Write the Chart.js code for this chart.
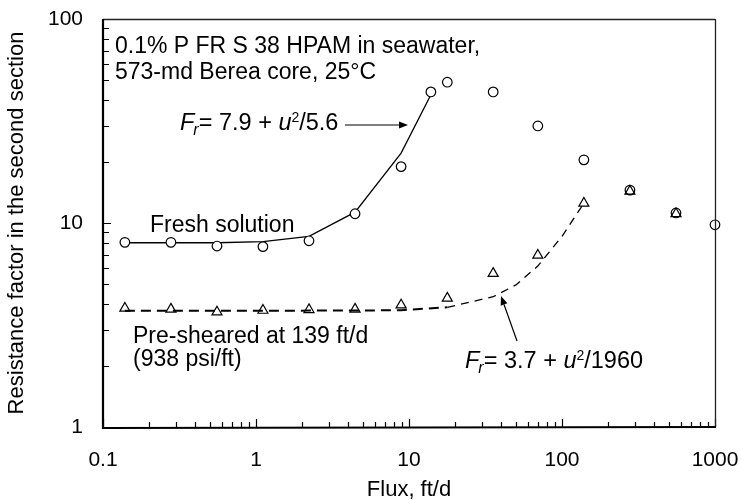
<!DOCTYPE html>
<html><head><meta charset="utf-8">
<script src="https://cdn.jsdelivr.net/npm/chart.js@4/dist/chart.umd.min.js"></script>
<style>html,body{margin:0;padding:0;background:#fff;}</style>
</head><body>
<canvas id="c" width="741" height="499"></canvas>
<script>
// ---- data ----
const freshFlux = [0.139, 0.278, 0.556, 1.11, 2.22, 4.44, 8.88, 13.9, 17.8, 35.5, 69.5, 139, 278, 556, 1000];
const freshFr   = [8.04, 8.04, 7.71, 7.66, 8.18, 11.1, 18.9, 43.9, 49, 43.9, 29.9, 20.4, 14.5, 11.2, 9.8];
const shearedFlux = [0.139, 0.278, 0.556, 1.11, 2.22, 4.44, 8.88, 17.8, 35.5, 69.5, 139, 278, 556];
const shearedFr   = [3.82, 3.78, 3.66, 3.73, 3.76, 3.78, 3.96, 4.28, 5.66, 6.95, 12.5, 14.3, 11.1];
const fitFreshFlux = [0.139, 0.278, 0.556, 1.11, 2.22, 4.44, 8.88, 13.9];
const fitFreshFr   = [8.0, 8.0, 8.0, 8.1, 8.6, 11.3, 22, 42.5];
const fitShearFluxA = [0.139, 0.278, 0.556, 1.11, 2.22, 4.44, 8.88, 17.8];
const fitShearFrA   = [3.71, 3.71, 3.71, 3.71, 3.72, 3.72, 3.74, 3.86];
const fitShearFluxB = [17.8, 35.5, 50, 69.5, 100, 139];
const fitShearFrB   = [3.86, 4.35, 4.97, 6.15, 8.6, 12.5];
const xTickLabels = ['0.1', '1', '10', '100', '1000'];
const yTickLabels = ['1', '10', '100'];

const FAMILY = '"Liberation Sans", Arial, Helvetica, sans-serif';
const pts = (xs, ys) => xs.map((x, i) => ({x: x, y: ys[i]}));
function logTicks(labels) {
  const out = [];
  const vals = labels.map(Number);
  for (let d = 0; d < vals.length - 1; d++) {
    for (let m = 1; m <= 9; m++) out.push(parseFloat((m * vals[d]).toPrecision(6)));
  }
  out.push(vals[vals.length - 1]);
  return out;
}
const isMajor = v => Math.abs(Math.log10(v) - Math.round(Math.log10(v))) < 1e-9;
function labelFor(labels) {
  return function(v) {
    const f = labels.find(l => Math.abs(Number(l) - v) < 1e-9 * Math.max(1, v));
    return f === undefined ? '' : f;
  };
}

const overlay = {
  id: 'overlay',
  afterDraw(chart) {
    const ctx = chart.ctx;
    const {left, right, top, bottom} = chart.chartArea;
    const xs = chart.scales.x, ys = chart.scales.y;
    ctx.save();
    ctx.strokeStyle = '#000';
    ctx.lineWidth = 1.2;
    ctx.beginPath();
    xs.ticks.forEach(t => {
      const px = Math.round(xs.getPixelForValue(t.value)) + 0.5;
      const len = isMajor(t.value) ? 8 : 5;
      ctx.moveTo(px, bottom); ctx.lineTo(px, bottom - len);
    });
    ys.ticks.forEach(t => {
      const py = Math.round(ys.getPixelForValue(t.value)) + 0.5;
      const len = isMajor(t.value) ? 8 : 6;
      ctx.moveTo(left, py); ctx.lineTo(left + len, py);
    });
    ctx.stroke();
    // frame
    ctx.lineWidth = 1.3;
    ctx.strokeStyle = '#222';
    ctx.beginPath();
    ctx.moveTo(left, top + 0.5); ctx.lineTo(right, top + 0.5);
    ctx.moveTo(right + 0.5, top); ctx.lineTo(right + 0.5, bottom);
    ctx.stroke();
    ctx.lineWidth = 2.2;
    ctx.strokeStyle = '#000';
    ctx.beginPath();
    ctx.moveTo(left, top); ctx.lineTo(left, bottom + 1); ctx.lineTo(right + 1, bottom);
    ctx.stroke();

    // annotations
    ctx.fillStyle = '#000';
    ctx.textBaseline = 'alphabetic';
    ctx.textAlign = 'left';
    ctx.font = '23px ' + FAMILY;
    ctx.fillText('0.1% P FR S 38 HPAM in seawater,', 115, 53);
    ctx.fillText('573-md Berea core, 25°C', 115, 79);
    ctx.fillText('Fresh solution', 150, 232);
    ctx.fillText('Pre-sheared at 139 ft/d', 133, 343);
    ctx.fillText('(938 psi/ft)', 133, 366);

    function rich(x, y, parts) {
      parts.forEach(p => {
        ctx.font = (p.it ? 'italic ' : '') + p.s + 'px ' + FAMILY;
        ctx.fillText(p.t, x, y + (p.dy || 0));
        x += ctx.measureText(p.t).width + (p.k || 0);
      });
      return x;
    }
    rich(180, 130, [
      {t: 'F', it: true, s: 23.5, k: -1}, {t: 'r', it: true, s: 16, dy: 5},
      {t: '= 7.9 + ', s: 23.5}, {t: 'u', it: true, s: 23.5}, {t: '2', s: 14, dy: -8},
      {t: '/5.6', s: 23.5}
    ]);
    rich(465, 368, [
      {t: 'F', it: true, s: 23.5, k: -1}, {t: 'r', it: true, s: 16, dy: 5},
      {t: '= 3.7 + ', s: 23.5}, {t: 'u', it: true, s: 23.5}, {t: '2', s: 14, dy: -8},
      {t: '/1960', s: 23.5}
    ]);

    function arrow(x1, y1, x2, y2) {
      const a = Math.atan2(y2 - y1, x2 - x1);
      const L = 9, W = 3.5;
      ctx.lineWidth = 1.2;
      ctx.beginPath();
      ctx.moveTo(x1, y1);
      ctx.lineTo(x2 - L * Math.cos(a), y2 - L * Math.sin(a));
      ctx.stroke();
      ctx.beginPath();
      ctx.moveTo(x2, y2);
      ctx.lineTo(x2 - L * Math.cos(a) + W * Math.sin(a), y2 - L * Math.sin(a) - W * Math.cos(a));
      ctx.lineTo(x2 - L * Math.cos(a) - W * Math.sin(a), y2 - L * Math.sin(a) + W * Math.cos(a));
      ctx.closePath();
      ctx.fill();
    }
    arrow(345, 125, 408, 125);
    arrow(517, 341, 501, 296);
    ctx.restore();
  }
};

new Chart(document.getElementById('c'), {
  type: 'scatter',
  data: {
    datasets: [
      {data: pts(freshFlux, freshFr), pointStyle: 'circle', pointRadius: 4.8, pointBorderWidth: 1.2,
       borderColor: '#000', backgroundColor: '#fff', showLine: false, clip: false, order: 1},
      {data: pts(shearedFlux, shearedFr), pointStyle: 'triangle', pointRadius: 5.8, pointBorderWidth: 1.2,
       borderColor: '#000', backgroundColor: 'rgba(255,255,255,0)', showLine: false, clip: false, order: 0},
      {data: pts(fitFreshFlux, fitFreshFr), showLine: true, pointRadius: 0, borderColor: '#000',
       borderWidth: 1.3, tension: 0, order: 2},
      {data: pts(fitShearFluxA, fitShearFrA), showLine: true, pointRadius: 0, borderColor: '#000',
       borderWidth: 2, borderDash: [10, 6], tension: 0, order: 3},
      {data: pts(fitShearFluxB, fitShearFrB), showLine: true, pointRadius: 0, borderColor: '#000',
       borderWidth: 1.3, borderDash: [8, 6], tension: 0, order: 3}
    ]
  },
  options: {
    responsive: false, animation: false, devicePixelRatio: 1,
    layout: {padding: {top: 19, right: 26, left: 0, bottom: 0}},
    plugins: {legend: {display: false}, tooltip: {enabled: false}},
    scales: {
      x: {
        type: 'logarithmic', min: 0.1, max: 1000,
        grid: {display: false, drawTicks: false}, border: {display: false},
        afterBuildTicks: s => { s.ticks = logTicks(xTickLabels).map(v => ({value: v})); },
        afterFit: s => { s.height = 72; s.paddingLeft = 0; s.paddingRight = 0; },
        ticks: {autoSkip: false, maxRotation: 0, minRotation: 0, padding: 21, color: '#000',
                font: {size: 21, family: FAMILY}, callback: labelFor(xTickLabels)},
        title: {display: true, text: 'Flux, ft/d', color: '#000',
                font: {size: 22, family: FAMILY, lineHeight: 0.8}, padding: {top: 0, bottom: 0}}
      },
      y: {
        type: 'logarithmic', min: 1, max: 100,
        grid: {display: false, drawTicks: false}, border: {display: false},
        afterBuildTicks: s => { s.ticks = logTicks(yTickLabels).map(v => ({value: v})); },
        afterFit: s => { s.width = 103; s.paddingTop = 0; s.paddingBottom = 0; },
        ticks: {autoSkip: false, padding: 20, color: '#000',
                font: {size: 21, family: FAMILY}, callback: labelFor(yTickLabels)},
        title: {display: true, text: 'Resistance factor in the second section', color: '#000',
                font: {size: 22, family: FAMILY}, padding: {top: 4, bottom: 0}}
      }
    }
  },
  plugins: [overlay]
});
</script>
</body></html>
